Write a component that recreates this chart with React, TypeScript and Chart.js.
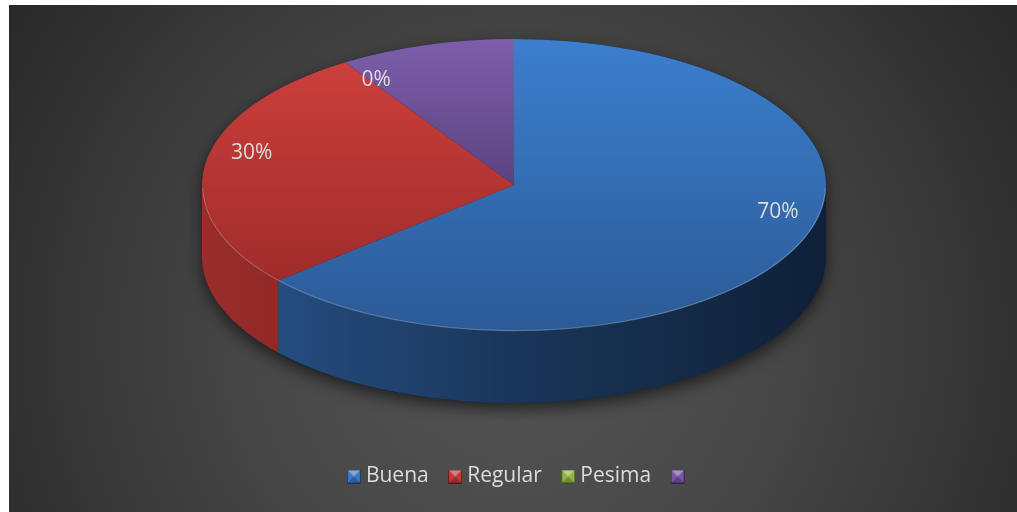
import React, { useEffect, useRef } from "react";
import { Chart, registerables } from "chart.js";

Chart.register(...registerables);

// ---- data ----
const categories = ["Buena", "Regular", "Pesima", ""];
const values = [0.7, 0.3, 0, 0.1];
const valueLabels = ["70%", "30%", "0%", ""];

// ---- styles ----
const topColors = [
  ["#3c7fce", "#2b5a96"],
  ["#cb3f3c", "#a02c2a"],
  ["#9bbb59", "#76923c"],
  ["#7e5eab", "#5b4280"],
];
const sideColors = [
  ["#28548c", "#1a3659", "#0f2038"],
  ["#9a2c29", "#74201e", "#4f1614"],
  ["#6f8a3a", "#55692c", "#3b4a1f"],
  ["#5b4280", "#43305f", "#2e2141"],
];
const legendColors = ["#3a78c4", "#c33b39", "#91b545", "#7655a3"];
const textColor = "#dcdcdc";

const GEO = {
  cx: 505, cy: 180, rx: 312, ry: 146, depth: 72,
  labelDx: 12, labelDy: -17, labelKx: 0.888, labelKy: 0.72,
};

function sectorAngles(i: number): [number, number] {
  const total = values.reduce((a, b) => a + b, 0);
  let s = -Math.PI / 2;
  for (let k = 0; k < i; k++) s += (values[k] / total) * 2 * Math.PI;
  return [s, s + (values[i] / total) * 2 * Math.PI];
}

function angleIn(a: number, s: number, e: number) {
  for (let k = -1; k <= 1; k++) {
    const x = a + k * 2 * Math.PI;
    if (x >= s && x <= e) return true;
  }
  return false;
}

function makeBox(color: string) {
  const s = 14;
  const cv = document.createElement("canvas");
  cv.width = s;
  cv.height = s;
  const g = cv.getContext("2d")!;
  g.fillStyle = color;
  g.fillRect(0, 0, s, s);
  g.fillStyle = "rgba(255,255,255,0.35)";
  g.beginPath();
  g.moveTo(0, 0);
  g.lineTo(s, 0);
  g.lineTo(s / 2, s / 2);
  g.closePath();
  g.fill();
  g.fillStyle = "rgba(0,0,0,0.22)";
  g.beginPath();
  g.moveTo(0, s);
  g.lineTo(s, s);
  g.lineTo(s / 2, s / 2);
  g.closePath();
  g.fill();
  g.strokeStyle = "rgba(0,0,0,0.45)";
  g.lineWidth = 1;
  g.strokeRect(0.5, 0.5, s - 1, s - 1);
  return cv;
}

function labelPoint(theta: number) {
  const { cx, cy, rx, ry, labelDx, labelDy, labelKx, labelKy } = GEO;
  return [
    cx + labelDx + rx * labelKx * Math.cos(theta),
    cy + labelDy + ry * labelKy * Math.sin(theta),
  ];
}

const bgPlugin = {
  id: "bg",
  beforeDraw(chart: any) {
    const ctx = chart.ctx as CanvasRenderingContext2D;
    const w = chart.width;
    const h = chart.height;
    const g = ctx.createRadialGradient(505, 330, 0, 505, 330, 640);
    g.addColorStop(0, "#565656");
    g.addColorStop(0.45, "#454545");
    g.addColorStop(1, "#252525");
    ctx.save();
    ctx.fillStyle = g;
    ctx.fillRect(0, 0, w, h);
    ctx.restore();
  },
};

const pie3d = {
  id: "pie3d",
  beforeDatasetsDraw(chart: any) {
    const ctx = chart.ctx as CanvasRenderingContext2D;
    const arcs = chart.getDatasetMeta(0).data as any[];
    const { cx, cy, rx, ry, depth } = GEO;

    // soft shadow under the solid
    ctx.save();
    ctx.shadowColor = "rgba(0,0,0,0.6)";
    ctx.shadowBlur = 16;
    ctx.shadowOffsetY = 6;
    ctx.fillStyle = "#14263f";
    ctx.beginPath();
    ctx.ellipse(cx, cy, rx, ry, 0, Math.PI, 2 * Math.PI);
    ctx.lineTo(cx + rx, cy + depth);
    ctx.ellipse(cx, cy + depth, rx, ry, 0, 0, Math.PI);
    ctx.closePath();
    ctx.fill();
    ctx.restore();

    // side walls (front half only)
    arcs.forEach((arc, i) => {
      const { startAngle, endAngle } = arc.getProps(["startAngle", "endAngle"], true);
      const t0 = Math.max(startAngle, 0);
      const t1 = Math.min(endAngle, Math.PI);
      if (t1 <= t0) return;
      const g = ctx.createLinearGradient(cx - rx, 0, cx + rx, 0);
      const cols = sideColors[i];
      cols.forEach((c, k) => g.addColorStop(k / (cols.length - 1), c));
      ctx.beginPath();
      ctx.ellipse(cx, cy, rx, ry, 0, t0, t1);
      ctx.lineTo(cx + rx * Math.cos(t1), cy + ry * Math.sin(t1) + depth);
      ctx.ellipse(cx, cy + depth, rx, ry, 0, t1, t0, true);
      ctx.closePath();
      ctx.fillStyle = g;
      ctx.fill();
    });

    // squash the library's pie into the top face ellipse
    const a0 = arcs[0];
    const R = a0.outerRadius;
    ctx.save();
    ctx.translate(cx, cy);
    ctx.scale(rx / R, ry / R);
    ctx.translate(-a0.x, -a0.y);
  },
  afterDatasetsDraw(chart: any) {
    const ctx = chart.ctx as CanvasRenderingContext2D;
    ctx.restore();
    const arcs = chart.getDatasetMeta(0).data as any[];
    const { cx, cy, rx, ry } = GEO;

    // rim highlight
    ctx.save();
    ctx.strokeStyle = "rgba(255,255,255,0.22)";
    ctx.lineWidth = 1.2;
    ctx.beginPath();
    ctx.ellipse(cx, cy + 0.3, rx - 0.6, ry - 0.6, 0, 0.02, Math.PI - 0.02);
    ctx.stroke();
    ctx.restore();

    // value labels
    ctx.save();
    ctx.font = "21px 'Open Sans', sans-serif";
    ctx.fillStyle = textColor;
    ctx.textAlign = "center";
    ctx.textBaseline = "middle";
    arcs.forEach((arc, i) => {
      if (!valueLabels[i]) return;
      const { startAngle, endAngle } = arc.getProps(["startAngle", "endAngle"], true);
      const [x, y] = labelPoint((startAngle + endAngle) / 2);
      ctx.fillText(valueLabels[i], x, y);
    });
    ctx.restore();
  },
};

export default function App() {
  const ref = useRef<HTMLCanvasElement>(null);

  useEffect(() => {
    if (!ref.current) return;
    const boxes = legendColors.map(makeBox);
    const chart = new Chart(ref.current, {
      type: "pie",
      data: {
        labels: categories,
        datasets: [
          {
            data: values,
            borderWidth: 0,
            hoverOffset: 0,
            backgroundColor: (c: any) => {
              const i = c.dataIndex ?? 0;
              const chart = c.chart;
              const area = chart.chartArea;
              if (!area) return topColors[i][0];
              const ay = (area.top + area.bottom) / 2;
              const R = Math.min(area.width, area.height) / 2;
              const [s, e] = sectorAngles(i);
              let minY = Math.min(0, Math.sin(s), Math.sin(e));
              let maxY = Math.max(0, Math.sin(s), Math.sin(e));
              if (angleIn(-Math.PI / 2, s, e)) minY = -1;
              if (angleIn(Math.PI / 2, s, e)) maxY = 1;
              if (maxY - minY < 0.01) maxY = minY + 0.01;
              const g = chart.ctx.createLinearGradient(0, ay + R * minY, 0, ay + R * maxY);
              g.addColorStop(0, topColors[i][0]);
              g.addColorStop(1, topColors[i][1]);
              return g;
            },
          },
        ],
      },
      options: {
        responsive: false,
        animation: false,
        events: [],
        layout: { padding: { left: 16, bottom: 15 } },
        plugins: {
          legend: {
            position: "bottom",
            labels: {
              usePointStyle: true,
              pointStyleWidth: 3,
              boxHeight: 14,
              padding: 25,
              color: textColor,
              font: { family: "'Open Sans', sans-serif", size: 21 },
              generateLabels: () =>
                categories.map((t, i) => ({
                  text: t,
                  fillStyle: legendColors[i],
                  strokeStyle: legendColors[i],
                  lineWidth: 0,
                  pointStyle: boxes[i],
                  hidden: false,
                  index: i,
                  fontColor: textColor,
                })),
            },
          },
          tooltip: { enabled: false },
        },
      } as any,
      plugins: [bgPlugin, pie3d],
    });
    return () => chart.destroy();
  }, []);

  return (
    <div style={{ position: "absolute", left: 9, top: 5, width: 1008, height: 507 }}>
      <canvas ref={ref} width={1008} height={507} style={{ display: "block" }} />
    </div>
  );
}
